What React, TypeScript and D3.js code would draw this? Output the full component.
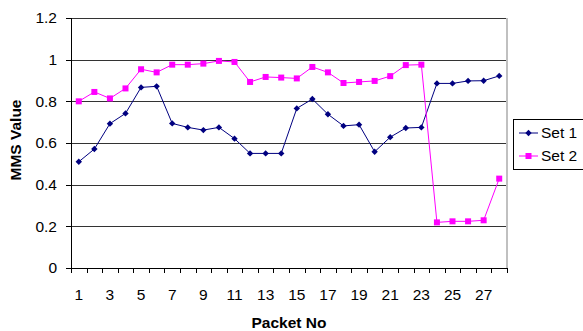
import React from "react";
import * as d3 from "d3";

const packets = d3.range(1, 29);
const set1 = [
  0.51, 0.571, 0.693, 0.742, 0.867, 0.872, 0.694, 0.675, 0.662, 0.675,
  0.621, 0.55, 0.55, 0.55, 0.766, 0.811, 0.738, 0.682, 0.688, 0.558,
  0.628, 0.672, 0.675, 0.886, 0.886, 0.898, 0.899, 0.922,
];
const set2 = [
  0.8, 0.845, 0.814, 0.862, 0.954, 0.939, 0.976, 0.976, 0.981, 0.994,
  0.989, 0.893, 0.917, 0.914, 0.91, 0.965, 0.939, 0.888, 0.893, 0.898,
  0.921, 0.974, 0.976, 0.219, 0.224, 0.224, 0.229, 0.429,
];
const yTicks = [0, 0.2, 0.4, 0.6, 0.8, 1, 1.2];
const seriesNames = ["Set 1", "Set 2"];
const seriesColors = ["#000080", "#FF00FF"];

const W = 583;
const H = 331;
const left = 71;
const right = 507;
const top = 18;
const bottom = 268;
const font = "Arial, 'Liberation Sans', sans-serif";
const fs = 15.5;

export default function App() {
  const x = d3
    .scaleBand<number>()
    .domain(packets)
    .range([left, right]);
  const y = d3.scaleLinear().domain([0, 1.2]).range([bottom, top]);
  const cx = (p: number) => (x(p) as number) + x.bandwidth() / 2;

  const line = d3
    .line<number>()
    .x((_, i) => cx(packets[i]))
    .y((v) => y(v));

  const diamond = (px: number, py: number, r = 3.2) =>
    `M${px},${py - r}L${px + r},${py}L${px},${py + r}L${px - r},${py}Z`;

  const boundaries = d3.range(0, packets.length + 1).map((i) => left + i * x.step());

  return (
    <svg width={W} height={H} style={{ position: "absolute", left: 0, top: 0 }}>
      <rect width={W} height={H} fill="#fff" />
      {/* horizontal gridlines */}
      {yTicks.map((t) => (
        <line
          key={t}
          x1={left}
          x2={right}
          y1={Math.round(y(t)) + 0.5}
          y2={Math.round(y(t)) + 0.5}
          stroke={t === 0 ? "#000" : "#333"}
          strokeWidth={1}
        />
      ))}
      {/* right border of plot area */}
      <line x1={right} x2={right} y1={top} y2={bottom} stroke="#c0c0c0" strokeWidth={2} />
      {/* y axis */}
      <line x1={left + 0.5} x2={left + 0.5} y1={top} y2={bottom + 5} stroke="#000" />
      {yTicks.map((t) => (
        <g key={"yt" + t}>
          <line
            x1={left - 5}
            x2={left}
            y1={Math.round(y(t)) + 0.5}
            y2={Math.round(y(t)) + 0.5}
            stroke="#000"
          />
          <text
            x={57}
            y={y(t)}
            dy="0.35em"
            textAnchor="end"
            fontFamily={font}
            fontSize={fs}
            fill="#000"
          >
            {d3.format("")(t)}
          </text>
        </g>
      ))}
      {/* x axis ticks */}
      {boundaries.map((bx, i) => (
        <line
          key={"xt" + i}
          x1={Math.round(bx) + 0.5}
          x2={Math.round(bx) + 0.5}
          y1={bottom}
          y2={bottom + 5}
          stroke="#000"
        />
      ))}
      {packets
        .filter((p) => p % 2 === 1)
        .map((p) => (
          <text
            key={"xl" + p}
            x={cx(p)}
            y={295}
            dy="0.35em"
            textAnchor="middle"
            fontFamily={font}
            fontSize={fs}
            fill="#000"
          >
            {p}
          </text>
        ))}
      {/* series */}
      <path d={line(set1) ?? ""} fill="none" stroke={seriesColors[0]} strokeWidth={1} />
      <path d={line(set2) ?? ""} fill="none" stroke={seriesColors[1]} strokeWidth={1} />
      {set1.map((v, i) => (
        <path key={"m1" + i} d={diamond(cx(packets[i]), y(v))} fill={seriesColors[0]} />
      ))}
      {set2.map((v, i) => (
        <rect
          key={"m2" + i}
          x={cx(packets[i]) - 3}
          y={y(v) - 3}
          width={6}
          height={6}
          fill={seriesColors[1]}
        />
      ))}
      {/* axis titles */}
      <text
        x={289}
        y={323}
        dy="0.35em"
        textAnchor="middle"
        fontFamily={font}
        fontSize={fs}
        fontWeight="bold"
        fill="#000"
      >
        Packet No
      </text>
      <text
        transform={`translate(16,140) rotate(-90)`}
        dy="0.35em"
        textAnchor="middle"
        fontFamily={font}
        fontSize={fs}
        fontWeight="bold"
        fill="#000"
      >
        MMS Value
      </text>
      {/* legend */}
      <rect x={513.5} y={119.5} width={75} height={50} fill="#fff" stroke="#000" />
      {seriesNames.map((name, i) => {
        const ly = 133 + i * 23;
        return (
          <g key={name}>
            <line x1={519} x2={538} y1={ly} y2={ly} stroke={seriesColors[i]} />
            {i === 0 ? (
              <path d={diamond(528.5, ly)} fill={seriesColors[i]} />
            ) : (
              <rect x={525.5} y={ly - 3} width={6} height={6} fill={seriesColors[i]} />
            )}
            <text
              x={541}
              y={ly}
              dy="0.35em"
              fontFamily={font}
              fontSize={fs}
              fill="#000"
            >
              {name}
            </text>
          </g>
        );
      })}
    </svg>
  );
}
